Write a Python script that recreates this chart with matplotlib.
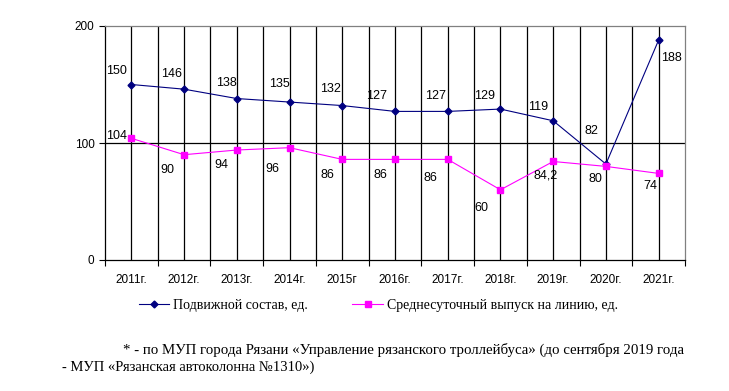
import matplotlib.pyplot as plt
from matplotlib.ticker import FixedLocator

years = ["2011г.", "2012г.", "2013г.", "2014г.", "2015г", "2016г.",
         "2017г.", "2018г.", "2019г.", "2020г.", "2021г."]
rolling_stock = [150, 146, 138, 135, 132, 127, 127, 129, 119, 82, 188]
daily_output = [104, 90, 94, 96, 86, 86, 86, 60, 84.2, 80, 74]
output_labels = ["104", "90", "94", "96", "86", "86", "86", "60", "84,2", "80", "74"]

# label offsets in pixels (dx, dy)
blue_off = [(-15, 13), (-13, 15), (-10, 16), (-10, 18), (-12, 17), (-18, 15),
            (-12, 15), (-16, 13), (-15, 14), (-14, 33), (13, -18)]
pink_off = [(-15, 2), (-17, -15), (-15, -15), (-17, -21), (-15, -16), (-15, -16),
            (-17, -19), (-19, -18), (-8, -14), (-10, -13), (-8, -13)]

navy = "#000080"
pink = "#FF00FF"

fig = plt.figure(figsize=(7.29, 3.91), dpi=100)
ax = fig.add_axes([105 / 729, 1 - 260 / 391, 580 / 729, 234 / 391])

x = list(range(len(years)))
ax.plot(x, rolling_stock, color=navy, lw=0.8, marker="D", ms=3.5,
        label="Подвижной состав, ед.", zorder=3)
ax.plot(x, daily_output, color=pink, lw=0.8, marker="s", ms=5,
        label="Среднесуточный выпуск на линию, ед.", zorder=3)

for i, v in enumerate(rolling_stock):
    ax.annotate(str(v), (i, v), xytext=(blue_off[i][0] * 0.72, blue_off[i][1] * 0.72),
                textcoords="offset points", ha="center", va="center",
                fontsize=9, family="Liberation Sans")
for i, v in enumerate(daily_output):
    ax.annotate(output_labels[i], (i, v), xytext=(pink_off[i][0] * 0.72, pink_off[i][1] * 0.72),
                textcoords="offset points", ha="center", va="center",
                fontsize=9, family="Liberation Sans")

ax.set_xlim(-0.5, len(years) - 0.5)
ax.set_ylim(0, 200)
ax.set_yticks([0, 100, 200])
ax.set_xticks(x)
ax.set_xticklabels(years, family=["Liberation Sans Narrow", "Liberation Sans"], fontsize=8.5)
ax.xaxis.set_minor_locator(FixedLocator([i - 0.5 for i in range(len(years) + 1)]))
ax.tick_params(axis="x", which="major", length=0, pad=10)
ax.tick_params(axis="x", which="minor", length=4, width=0.8, direction="out")
ax.tick_params(axis="y", length=4, width=0.8, labelsize=8.5)
for lab in ax.get_yticklabels():
    lab.set_family("Liberation Sans")

# vertical grid on every half step, from the first point to the last
for g in [i * 0.5 for i in range(0, 2 * len(years) - 1)]:
    ax.axvline(g, color="black", lw=0.9, zorder=1)
ax.axhline(100, color="black", lw=0.9, zorder=1)

ax.spines["left"].set_color("black")
ax.spines["bottom"].set_color("black")
ax.spines["top"].set_color("#808080")
ax.spines["right"].set_color("#808080")
for s in ax.spines.values():
    s.set_linewidth(0.9)

fig.legend(loc="center left", bbox_to_anchor=(133 / 729, 1 - 305 / 391), ncol=2,
           frameon=False, prop={"family": "Liberation Serif", "size": 10},
           handlelength=2.2, handletextpad=0.3, columnspacing=3.2, borderaxespad=0)

fig.text(123 / 729, 1 - 350 / 391,
         "* - по МУП города Рязани «Управление рязанского троллейбуса» (до сентября 2019 года",
         family="Liberation Serif", fontsize=10.7, va="center")
fig.text(62 / 729, 1 - 367 / 391, "- МУП «Рязанская автоколонна №1310»)",
         family="Liberation Serif", fontsize=10.5, va="center")

fig.savefig("out.png", dpi=100)
